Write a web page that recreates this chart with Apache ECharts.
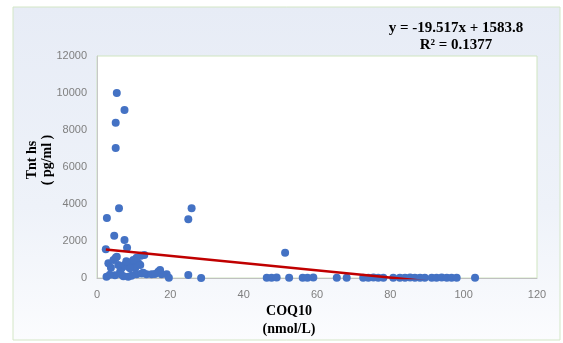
<!DOCTYPE html>
<html>
<head>
<meta charset="utf-8">
<script src="https://cdn.jsdelivr.net/npm/echarts@6/dist/echarts.min.js"></script>
<style>html,body{margin:0;padding:0;background:#fff;}#c{width:563px;height:343px;}</style>
</head>
<body>
<div id="c"></div>
<script>
// COQ10 (nmol/L) values
const coq10 = [
  5.4, 7.5, 5.1, 5.1, 6.0, 2.7, 25.8, 24.9,
  4.7, 7.5, 8.2, 2.4, 12.9, 12.0,
  3.1, 5.1, 5.8, 7.5, 8.5, 9.6, 10.8, 11.3, 10.4, 3.8, 6.7,
  4.5, 5.4, 9.9, 6.3, 9.0, 11.8, 8.0,
  2.6, 4.9, 6.5, 8.5, 10.8, 12.2, 13.5, 14.9, 16.7, 17.6, 19.0, 19.6, 24.9, 28.4, 17.2, 12.6, 15.8, 7.2, 3.5, 9.4,
  51.3,
  46.3, 47.6, 49.0, 52.4, 56.1, 57.4, 59.0, 65.4, 68.1,
  72.6, 74.0, 75.4, 76.7, 78.1,
  80.8, 82.6, 84.0, 85.4, 86.7, 88.1, 89.4, 91.3, 92.6, 94.0, 95.4, 96.7, 98.1, 103.1
];
// Tnt hs (pg/ml) values
const tnths = [
  10000, 9080, 8395, 7027, 3767, 3250, 3767, 3180,
  2287, 2054, 1640, 1550, 1243, 1200,
  795, 1100, 703, 703, 611, 881, 1100, 795, 524, 557, 524,
  973, 1151, 973, 340, 524, 700, 900,
  70, 145, 200, 70, 200, 250, 200, 200, 340, 200, 200, 15, 160, 0, 432, 288, 220, 90, 180, 120,
  1369,
  20, 15, 25, 10, 20, 15, 25, 10, 15,
  20, 10, 25, 15, 10,
  15, 20, 10, 25, 15, 20, 10, 15, 20, 25, 10, 15, 20, 10
];
const xTicks = [0, 20, 40, 60, 80, 100, 120];
const yTicks = [0, 2000, 4000, 6000, 8000, 10000, 12000];
const slope = -19.517;
const intercept = 1583.8;
const rSquared = 0.1377;

const points = coq10.map((x, i) => [x, tnths[i]]);
const xMin = Math.min(...coq10), xMax = Math.max(...coq10);
const trend = [[xMin, slope * xMin + intercept], [xMax, slope * xMax + intercept]];

const chart = echarts.init(document.getElementById('c'), null, {renderer: 'canvas'});
const serif = '"Liberation Serif", "DejaVu Serif", serif';
const sans = '"Liberation Sans", Arial, sans-serif';
chart.setOption({
  animation: false,
  backgroundColor: '#ffffff',
  graphic: [
    {type: 'rect', z: -10, shape: {x: 13, y: 7, width: 547, height: 333},
     style: {fill: new echarts.graphic.LinearGradient(0, 0, 0, 1, [
       {offset: 0, color: '#e7ecf6'}, {offset: 0.6, color: '#eef2f9'}, {offset: 1, color: '#fbfcfe'}]),
       stroke: '#d3e6c6', lineWidth: 1}},
    {type: 'text', x: 40, y: 160, rotation: Math.PI / 2,
     style: {text: 'Tnt hs\n( pg/ml )', font: 'bold 14px ' + serif, fill: '#000', align: 'center', verticalAlign: 'middle', lineHeight: 15}},
    {type: 'text', x: 289, y: 320,
     style: {text: 'COQ10\n(nmol/L)', font: 'bold 14px ' + serif, fill: '#000', align: 'center', verticalAlign: 'middle', lineHeight: 18}},
    {type: 'text', x: 456, y: 37,
     style: {text: 'y = ' + slope + 'x + ' + intercept + '\nR² = ' + rSquared, font: 'bold 15px ' + serif, fill: '#000', align: 'center', verticalAlign: 'middle', lineHeight: 17}}
  ],
  grid: {left: 97, top: 56, right: 26, bottom: 65, show: true, backgroundColor: '#ffffff', borderColor: '#cfe5c0', borderWidth: 1},
  xAxis: {
    type: 'value', min: xTicks[0], max: xTicks[xTicks.length - 1], interval: 20,
    axisLine: {show: true, onZero: false, lineStyle: {color: '#c0c0c0', width: 1}},
    axisTick: {show: false}, splitLine: {show: false},
    axisLabel: {color: '#7f7f7f', fontSize: 11, fontFamily: sans, margin: 11, formatter: v => String(v)}
  },
  yAxis: {
    type: 'value', min: yTicks[0], max: yTicks[yTicks.length - 1], interval: 2000,
    axisLine: {show: true, lineStyle: {color: '#c8c8c8', width: 1}},
    axisTick: {show: false}, splitLine: {show: false},
    axisLabel: {color: '#7f7f7f', fontSize: 11, fontFamily: sans, margin: 10, formatter: v => String(v)}
  },
  series: [
    {type: 'scatter', data: points, symbolSize: 8, itemStyle: {color: '#4472c4', opacity: 1}, z: 2},
    {type: 'line', data: trend, symbol: 'none', clip: true, lineStyle: {color: '#c00000', width: 2.5}, z: 3}
  ]
});
</script>
</body>
</html>
